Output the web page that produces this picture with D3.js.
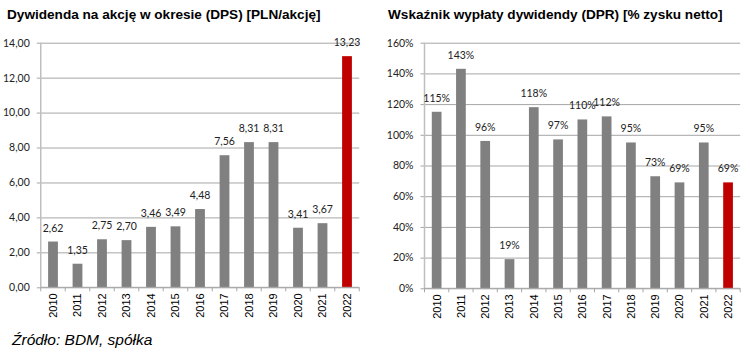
<!DOCTYPE html>
<html><head><meta charset="utf-8">
<script src="https://cdn.jsdelivr.net/npm/d3@7"></script>
<style>
html,body{margin:0;padding:0;background:#fff;}
svg{display:block;}
</style></head>
<body><svg id="c" width="750" height="360"></svg>
<script>
const years = ["2010","2011","2012","2013","2014","2015","2016","2017","2018","2019","2020","2021","2022"];
const dpsValues = [2.62,1.35,2.75,2.70,3.46,3.49,4.48,7.56,8.31,8.31,3.41,3.67,13.23];
const dprValues = [115,143,96,19,118,97,110,112,95,73,69,95,69];
const dpsTicks = [0,2,4,6,8,10,12,14];
const dprTicks = [0,20,40,60,80,100,120,140,160];
const highlightYear = "2022";
const dpsTitle = "Dywidenda na akcję w okresie (DPS) [PLN/akcję]";
const dprTitle = "Wskaźnik wypłaty dywidendy (DPR) [% zysku netto]";
const sourceText = "Źródło: BDM, spółka";

const svg = d3.select("#c");
const numFont = "Lato, 'Liberation Sans', sans-serif";
const fmtDps = v => d3.format(".2f")(v).replace(".", ",");
const fmtPct = v => d3.format("d")(v) + "%";

function drawChart(cfg){
  const g = svg.append("g");
  const x = d3.scaleBand().domain(years).range([cfg.x0, cfg.x1]).paddingInner(0.6).paddingOuter(0.3);
  const xb = d3.scaleBand().domain(years).range([cfg.x0, cfg.x1]);
  const y = d3.scaleLinear().domain([0, cfg.max]).range([cfg.y0, cfg.y1]);

  // title
  g.append("text").attr("x", cfg.titleX).attr("y", 19)
    .attr("font-family", "'Liberation Sans', Arial, sans-serif")
    .attr("font-weight", "bold").attr("font-size", 13.6).attr("fill", "#000")
    .text(cfg.title);

  // gridlines + y ticks
  const yAxis = d3.axisLeft(y).tickValues(cfg.ticks).tickFormat(cfg.tickFmt)
    .tickSize(-(cfg.x1 - cfg.x0)).tickPadding(8);
  const ya = g.append("g").attr("transform", `translate(${cfg.x0},0)`).call(yAxis);
  ya.select(".domain").remove();
  ya.selectAll(".tick line").attr("stroke", "#a6a6a6").attr("stroke-width", 1)
    .attr("x1", -4);
  ya.selectAll(".tick text").attr("font-family", numFont).attr("font-size", 10.5)
    .attr("fill", "#222").attr("x", -11);

  // y axis line
  g.append("line").attr("x1", cfg.x0).attr("x2", cfg.x0)
    .attr("y1", y(cfg.max)).attr("y2", y(0))
    .attr("stroke", "#bfbfbf").attr("stroke-width", 1.5);

  // bars
  g.selectAll("rect.bar").data(years).enter().append("rect")
    .attr("x", d => x(d)).attr("width", x.bandwidth())
    .attr("y", (d,i) => y(cfg.values[i]))
    .attr("height", (d,i) => y(0) - y(cfg.values[i]))
    .attr("fill", d => d === highlightYear ? "#c00000" : "#808080");

  // x axis
  const xAxis = d3.axisBottom(xb).tickSize(0).tickFormat("");
  const xa = g.append("g").attr("transform", `translate(0,${y(0)})`).call(xAxis);
  xa.select(".domain").attr("stroke", "#a6a6a6").attr("d", `M${cfg.x0},0H${cfg.x1}`);
  const bounds = years.map(d => xb(d)).concat([cfg.x1]);
  xa.selectAll("line.sep").data(bounds).enter().append("line")
    .attr("x1", d => d).attr("x2", d => d).attr("y1", 0).attr("y2", 4)
    .attr("stroke", "#a6a6a6");
  xa.selectAll("text.yr").data(years).enter().append("text")
    .attr("transform", d => `translate(${x(d) + x.bandwidth()/2},6) rotate(-90)`)
    .attr("text-anchor", "end").attr("dy", "0.36em")
    .attr("font-family", "'Liberation Sans', Arial, sans-serif")
    .attr("font-size", 11).attr("fill", "#000")
    .text(d => d);

  // value labels
  g.selectAll("text.val").data(years).enter().append("text")
    .attr("x", d => x(d) + x.bandwidth()/2)
    .attr("y", (d,i) => y(cfg.values[i]) - 10)
    .attr("text-anchor", "middle")
    .attr("font-family", numFont).attr("font-size", 10.5).attr("fill", "#222")
    .text((d,i) => cfg.valFmt(cfg.values[i]));
}

drawChart({x0:40.75, x1:359.25, y0:287.3, y1:42.7, max:14, ticks:dpsTicks,
  values:dpsValues, tickFmt:fmtDps, valFmt:fmtDps, title:dpsTitle, titleX:7});
drawChart({x0:424.5, x1:740.2, y0:288.3, y1:42.7, max:160, ticks:dprTicks,
  values:dprValues, tickFmt:fmtPct, valFmt:fmtPct, title:dprTitle, titleX:388});

svg.append("text").attr("x", 12).attr("y", 345)
  .attr("font-family", "'Liberation Sans', Arial, sans-serif")
  .attr("font-style", "italic").attr("font-size", 15.5).attr("fill", "#000")
  .text(sourceText);
</script>
</body></html>
